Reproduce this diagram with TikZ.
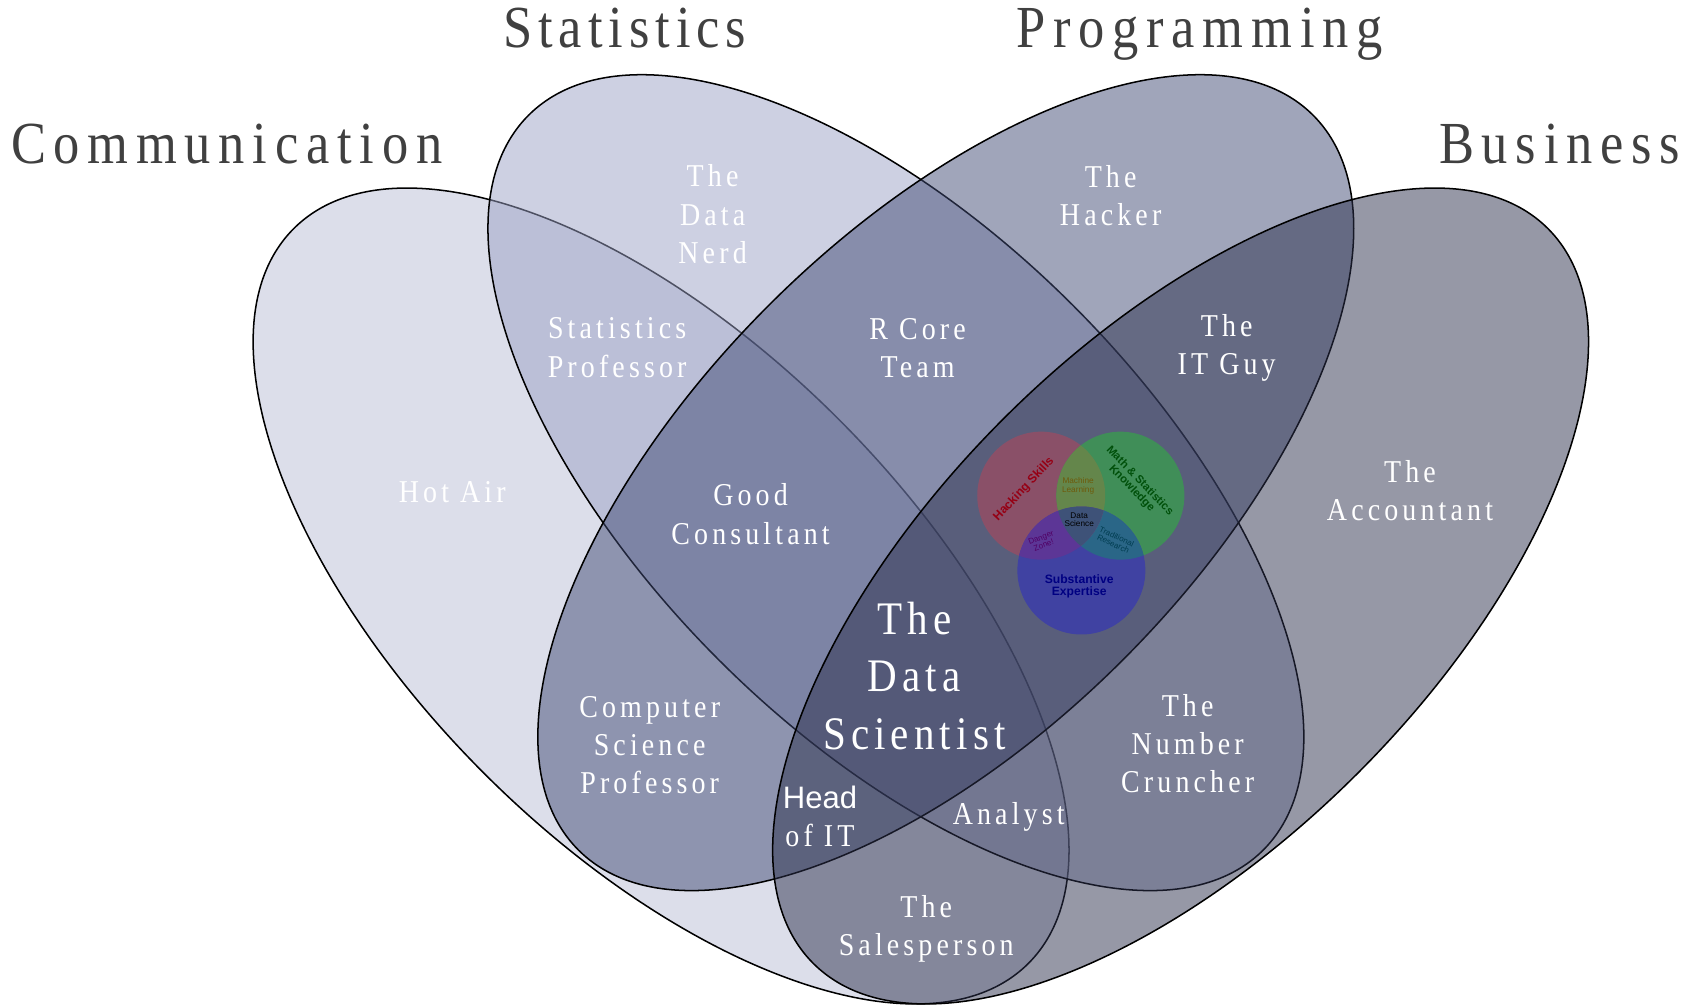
\documentclass[tikz,border=0pt]{standalone}
\usepackage{fontspec}
\setmainfont{Liberation Serif}
\newfontfamily\lblfont[FakeStretch=0.88,LetterSpace=13]{Liberation Serif}
\newfontfamily\biglblfont[FakeStretch=0.88,LetterSpace=11]{Liberation Serif}
\newfontfamily\ttlfont[FakeStretch=0.88,LetterSpace=13]{Liberation Serif}
\newfontfamily\ttlfontnarrow[FakeStretch=0.88,LetterSpace=10]{Liberation Serif}
\newfontfamily\hdsans{Liberation Sans}
\definecolor{cComm}{RGB}{185,189,213}
\definecolor{cStat}{RGB}{155,161,197}
\definecolor{cProg}{RGB}{65,75,117}
\definecolor{cBus}{RGB}{45,49,77}
\definecolor{titlegray}{RGB}{64,64,64}
\definecolor{vRed}{RGB}{138,80,104}
\definecolor{vGreen}{RGB}{64,142,88}
\definecolor{vBlue}{RGB}{64,66,162}
\definecolor{vRG}{RGB}{100,134,75}
\definecolor{vRB}{RGB}{92,54,150}
\definecolor{vGB}{RGB}{42,102,135}
\definecolor{vRGB}{RGB}{62,82,120}
\definecolor{tRed}{RGB}{150,0,20}
\definecolor{tGreen}{RGB}{0,80,10}
\definecolor{tOlive}{RGB}{110,90,10}
\definecolor{tPurple}{RGB}{80,0,100}
\definecolor{tTeal}{RGB}{0,60,80}
\definecolor{tBlue}{RGB}{0,0,130}
\begin{document}
\begin{tikzpicture}[x=0.5pt,y=0.5pt,
  venn/.style={fill=#1, fill opacity=0.5, draw=black, draw opacity=1, line width=0.7pt},
  titlelbl/.style={text=titlegray, font=\ttlfont\fontsize{27.5}{33}\selectfont, anchor=base, inner sep=0pt},
  lbl/.style={text=white, align=center, font=\lblfont\fontsize{14.65}{17.6}\selectfont, inner sep=0pt},
  biglbl/.style={text=white, align=center, font=\biglblfont\fontsize{21.5}{26.5}\selectfont, inner sep=0pt},
  smallv/.style={align=center, inner sep=0pt, font=\hdsans\fontsize{#1}{#1}\selectfont},
  smallvb/.style={align=center, inner sep=0pt, font=\hdsans\bfseries\fontsize{#1}{#1}\selectfont}
]
\useasboundingbox (0,0) rectangle (1560,928);
% four ellipses
\draw[venn=cComm, rotate around={-45:(609.5,378.5)}] (609.5,378.5) ellipse [x radius=479, y radius=231];
\draw[venn=cStat, rotate around={-45:(826,483)}] (826,483) ellipse [x radius=479, y radius=231];
\draw[venn=cProg, rotate around={45:(872,483)}] (872,483) ellipse [x radius=479, y radius=231];
\draw[venn=cBus, rotate around={45:(1088.5,378.5)}] (1088.5,378.5) ellipse [x radius=479, y radius=231];

% small venn
\coordinate (vR) at (960,471);
\coordinate (vG) at (1033,471);
\coordinate (vB) at (997,402);
\fill[vRed] (vR) circle [radius=59];
\fill[vGreen] (vG) circle [radius=59];
\fill[vBlue] (vB) circle [radius=59];
\begin{scope}
  \clip (vG) circle [radius=59];
  \fill[vGB] (vB) circle [radius=59];
\end{scope}
\begin{scope}
  \clip (vR) circle [radius=59];
  \fill[vRG] (vG) circle [radius=59];
  \fill[vRB] (vB) circle [radius=59];
  \clip (vG) circle [radius=59];
  \fill[vRGB] (vB) circle [radius=59];
\end{scope}
\node[smallvb=5.6, text=tRed, rotate=47] (hack) at (944,477) {Hacking Skills};
\node[smallvb=5.2, text=tGreen, rotate=-46] (math) at (1047,481) {Math \& Statistics\\Knowledge};
\node[smallv=3.8, text=tOlive] (ml) at (994,480) {Machine\\Learning};
\node[smallv=3.8, text=black] (ds) at (995,449) {Data\\Science};
\node[smallv=3.7, text=tPurple, rotate=20] (dz) at (961,429) {Danger\\Zone!};
\node[smallv=3.7, text=tTeal, rotate=-25] (tr) at (1028,430) {Traditional\\Research};
\node[smallvb=5.6, text=tBlue] (se) at (995,387) {Substantive\\Expertise};

% titles
\node[titlelbl, font=\ttlfontnarrow\fontsize{27.5}{33}\selectfont] (tStat) at (576,884) {Statistics};
\node[titlelbl] (tProg) at (1106,884) {Programming};
\node[titlelbl] (tComm) at (209,777.5) {Communication};
\node[titlelbl] (tBus) at (1438,777.5) {Business};

% region labels
\node[lbl] (nerd) at (657,730.5) {The\\Data\\Nerd};
\node[lbl] (hacker) at (1024,748) {The\\Hacker};
\node[lbl] (statprof) at (569,607.5) {Statistics\\Professor};
\node[lbl] (rcore) at (846,607) {R Core\\Team};
\node[lbl] (itguy) at (1131,607) {The\\IT Guy};
\node[lbl] (hotair) at (417,474.4) {Hot Air};
\node[lbl] (consult) at (692,454) {Good\\Consultant};
\node[lbl] (account) at (1300,475.5) {The\\Accountant};
\node[biglbl] (dsci) at (843,305) {The\\Data\\Scientist};
\node[lbl] (csprof) at (599,241) {Computer\\Science\\Professor};
\node[lbl] (cruncher) at (1095,242.5) {The\\Number\\Cruncher};
\node[lbl] (headit) at (756,175.5) {{\hdsans\fontsize{14.3}{17.6}\selectfont Head}\\of IT};
\node[lbl] (analyst) at (930,175) {Analyst};
\node[lbl] (sales) at (854,71.5) {The\\Salesperson};
\end{tikzpicture}
\end{document}
